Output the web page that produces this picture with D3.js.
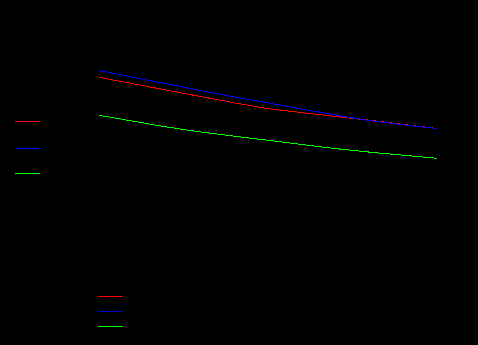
<!DOCTYPE html>
<html>
<head>
<meta charset="utf-8">
<script src="https://cdn.jsdelivr.net/npm/d3@7"></script>
<style>
  html, body { margin: 0; padding: 0; background: #000; }
  svg { display: block; }
</style>
</head>
<body>
<div id="chart"></div>
<script>
// data
var steps = [0, 1, 2, 3, 4, 5, 6, 7, 8, 9, 10];
var blueValues  = [84.75, 81.4, 78.1, 74.75, 71.55, 68.55, 65.5, 62.45, 59.7, 57.6, 55.75];
var redValues   = [81.35, 78.15, 74.95, 71.75, 68.6, 65.65, 63.7, 61.75, 59.9, 57.8, 55.75];
var greenValues = [62.35, 59.45, 56.5, 54.05, 51.9, 49.85, 47.75, 45.7, 43.95, 42.4, 40.85];
var seriesNames = ["red", "blue", "green"];

var width = 478, height = 345;
var colors = { red: "#ff0000", blue: "#0000ff", green: "#00ff00" };

var svg = d3.select("#chart").append("svg")
    .attr("width", width)
    .attr("height", height);

svg.append("rect")
    .attr("width", width)
    .attr("height", height)
    .attr("fill", "#000");

var x = d3.scaleLinear().domain([0, 10]).range([99, 437]);
var y = d3.scaleLinear().domain([0, 100]).range([240, 40]);

var series = [
    { name: "red", values: redValues },
    { name: "blue", values: blueValues },
    { name: "green", values: greenValues }
];

var line = d3.line()
    .x(function(d, i) { return x(steps[i]); })
    .y(function(d) { return y(d); });

//draw lines
svg.append("g").selectAll("path")
    .data(series)
    .enter()
    .append("path")
    .attr("d", function(d) { return line(d.values); })
    .attr("fill", "none")
    .attr("stroke", function(d) { return colors[d.name]; })
    .attr("stroke-width", 1)
    .attr("shape-rendering", "crispEdges");

//left legend
var leftLegend = svg.append("g").attr("transform", "translate(15,121)");
var leftY = [0, 27, 52];
leftLegend.selectAll("line")
    .data(seriesNames)
    .enter()
    .append("line")
    .attr("x1", 0)
    .attr("x2", 25)
    .attr("y1", function(d, i) { return leftY[i] + 0.5; })
    .attr("y2", function(d, i) { return leftY[i] + 0.5; })
    .attr("stroke", function(d) { return colors[d]; })
    .attr("stroke-width", 1);

//bottom legend
var bottomLegend = svg.append("g").attr("transform", "translate(98,296)");
bottomLegend.selectAll("line")
    .data(seriesNames)
    .enter()
    .append("line")
    .attr("x1", 0)
    .attr("x2", 25)
    .attr("y1", function(d, i) { return i * 15 + 0.5; })
    .attr("y2", function(d, i) { return i * 15 + 0.5; })
    .attr("stroke", function(d) { return d === "blue" ? "#0000c8" : colors[d]; })
    .attr("stroke-width", 1);
</script>
</body>
</html>
